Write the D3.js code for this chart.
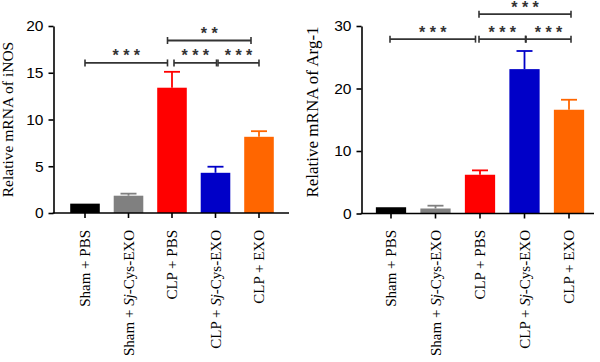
<!DOCTYPE html>
<html>
<head>
<meta charset="utf-8">
<script src="https://cdn.jsdelivr.net/npm/d3@7"></script>
<style>
  body { margin: 0; background: #fff; }
  svg { display: block; }
</style>
</head>
<body>
<div id="chart"></div>
<script>
// groups (x categories), the second and fourth have an italic "Sj"
const groups = ["Sham + PBS", "Sham + Sj-Cys-EXO", "CLP + PBS", "CLP + Sj-Cys-EXO", "CLP + EXO"];
const barColors = ["#000000", "#808080", "#ff0000", "#0000c8", "#ff6600"];

// iNOS panel
const inosMean = [1.0, 1.85, 13.4, 4.3, 8.15];
const inosErr = [0, 0.22, 1.7, 0.65, 0.6];
const inosTicks = [0, 5, 10, 15, 20];

// Arg-1 panel
const argMean = [1.0, 0.8, 6.2, 23.1, 16.6];
const argErr = [0, 0.45, 0.7, 2.9, 1.6];
const argTicks = [0, 10, 20, 30];

// significance brackets: from group, to group, height (data units), stars
const inosSig = [
  {from: 0, to: 2, level: 16.05, label: "* * *", nudge: [0, -4.5]},
  {from: 2, to: 3, level: 16.05, label: "* * *", nudge: [2, 1]},
  {from: 3, to: 4, level: 16.05, label: "* * *", nudge: [2.5, 0]},
  {from: 2, to: 4, level: 18.45, label: "* *", nudge: [-4.5, -8]}
];
const argSig = [
  {from: 0, to: 2, level: 27.9, label: "* * *", nudge: [-1, -4.5]},
  {from: 2, to: 3, level: 27.9, label: "* * *", nudge: [-1, 1]},
  {from: 3, to: 4, level: 27.9, label: "* * *", nudge: [1.5, 2]},
  {from: 2, to: 4, level: 31.9, label: "* * *", nudge: [-1, 2]}
];

const W = 600, H = 362;
const svg = d3.select("#chart").append("svg")
  .attr("width", W)
  .attr("height", H)
  .attr("font-family", "'Liberation Serif', 'DejaVu Serif', serif");

const drawPanel = (cfg) => {
  const g = svg.append("g");

  const x = d3.scaleBand()
    .domain(groups)
    .range(cfg.band)
    .paddingInner(0.32)
    .paddingOuter(0.16);
  const y = d3.scaleLinear()
    .domain([0, cfg.yMax])
    .range([cfg.bottom, cfg.top]);

  // bars
  g.selectAll("rect.bar")
    .data(cfg.mean)
    .join("rect")
    .attr("class", "bar")
    .attr("x", (d, i) => x(groups[i]))
    .attr("width", x.bandwidth())
    .attr("y", d => y(d))
    .attr("height", d => y(0) - y(d))
    .attr("fill", (d, i) => barColors[i]);

  // error bars (upper only)
  const eb = g.selectAll("g.err")
    .data(cfg.mean.map((m, i) => ({m, e: cfg.err[i], i})).filter(d => d.e > 0))
    .join("g")
    .attr("class", "err")
    .attr("stroke", d => barColors[d.i])
    .attr("stroke-width", 1.8);
  eb.append("line")
    .attr("x1", d => x(groups[d.i]) + x.bandwidth() / 2)
    .attr("x2", d => x(groups[d.i]) + x.bandwidth() / 2)
    .attr("y1", d => y(d.m))
    .attr("y2", d => y(d.m + d.e));
  eb.append("line")
    .attr("x1", d => x(groups[d.i]) + x.bandwidth() / 2 - 8)
    .attr("x2", d => x(groups[d.i]) + x.bandwidth() / 2 + 8)
    .attr("y1", d => y(d.m + d.e))
    .attr("y2", d => y(d.m + d.e));

  // y axis
  const yAxis = d3.axisLeft(y).tickValues(cfg.ticks).tickSize(5).tickPadding(5).tickSizeOuter(0);
  const yG = g.append("g")
    .attr("transform", `translate(${cfg.left},0)`)
    .call(yAxis);
  yG.select(".domain").attr("stroke-width", 1.6);
  yG.selectAll(".tick line").attr("stroke-width", 1.6);
  yG.selectAll(".tick text").attr("font-size", 15.5).attr("font-family", null);

  // x axis
  const xAxis = d3.axisBottom(x).tickSize(5).tickSizeOuter(0).tickFormat("");
  const xG = g.append("g")
    .attr("transform", `translate(0,${cfg.bottom})`)
    .call(xAxis);
  xG.select(".domain").remove();
  xG.selectAll(".tick line").attr("stroke-width", 1.6);
  g.append("line")
    .attr("x1", cfg.left - 0.8).attr("x2", cfg.right)
    .attr("y1", cfg.bottom).attr("y2", cfg.bottom)
    .attr("stroke", "#000").attr("stroke-width", 1.6);

  // rotated category labels
  const lab = g.selectAll("text.cat")
    .data(groups)
    .join("text")
    .attr("class", "cat")
    .attr("font-size", 15)
    .attr("text-anchor", "end")
    .attr("dy", "0.35em")
    .attr("transform", d => `translate(${x(d) + x.bandwidth() / 2},${cfg.labelY}) rotate(-90)`);
  lab.each(function(d) {
    const t = d3.select(this);
    const k = d.indexOf("Sj");
    if (k < 0) { t.text(d); return; }
    t.append("tspan").text(d.slice(0, k));
    t.append("tspan").attr("font-style", "italic").text("Sj");
    t.append("tspan").text(d.slice(k + 2));
  });

  // y title
  g.append("text")
    .attr("font-size", cfg.titleSize)
    .attr("text-anchor", "middle")
    .attr("transform", `translate(${cfg.titleX},${cfg.titleY}) rotate(-90)`)
    .attr("dy", "0.35em")
    .text(cfg.title);

  // significance brackets
  const cx = i => x(groups[i]) + x.bandwidth() / 2;
  const sg = g.selectAll("g.sig")
    .data(cfg.sig)
    .join("g")
    .attr("class", "sig");
  sg.append("line")
    .attr("x1", d => cx(d.from) + d.nudge[0])
    .attr("x2", d => cx(d.to) + d.nudge[1])
    .attr("y1", d => y(d.level)).attr("y2", d => y(d.level))
    .attr("stroke", "#333").attr("stroke-width", 1.8);
  [0, 1].forEach(end => {
    sg.append("line")
      .attr("x1", d => (end ? cx(d.to) + d.nudge[1] : cx(d.from) + d.nudge[0]))
      .attr("x2", d => (end ? cx(d.to) + d.nudge[1] : cx(d.from) + d.nudge[0]))
      .attr("y1", d => y(d.level) - 3.5).attr("y2", d => y(d.level) + 3.5)
      .attr("stroke", "#333").attr("stroke-width", 1.6);
  });
  sg.append("text")
    .attr("x", d => (cx(d.from) + d.nudge[0] + cx(d.to) + d.nudge[1]) / 2)
    .attr("y", d => y(d.level) - 1.5)
    .attr("text-anchor", "middle")
    .attr("font-family", "'Liberation Sans', Arial, sans-serif")
    .attr("font-size", 16)
    .attr("font-weight", "bold")
    .attr("fill", "#333")
    .text(d => d.label);
};

drawPanel({
  mean: inosMean, err: inosErr, ticks: inosTicks, yMax: 20, sig: inosSig,
  band: [63.25, 280.75], left: 53.5, right: 289, top: 26, bottom: 213,
  labelY: 230, title: "Relative mRNA of iNOS", titleX: 8, titleY: 119.5, titleSize: 15.5
});
drawPanel({
  mean: argMean, err: argErr, ticks: argTicks, yMax: 30, sig: argSig,
  band: [368.75, 591.25], left: 361.5, right: 594, top: 26, bottom: 213.5,
  labelY: 230, title: "Relative mRNA of Arg-1", titleX: 312, titleY: 112, titleSize: 17
});
</script>
</body>
</html>
